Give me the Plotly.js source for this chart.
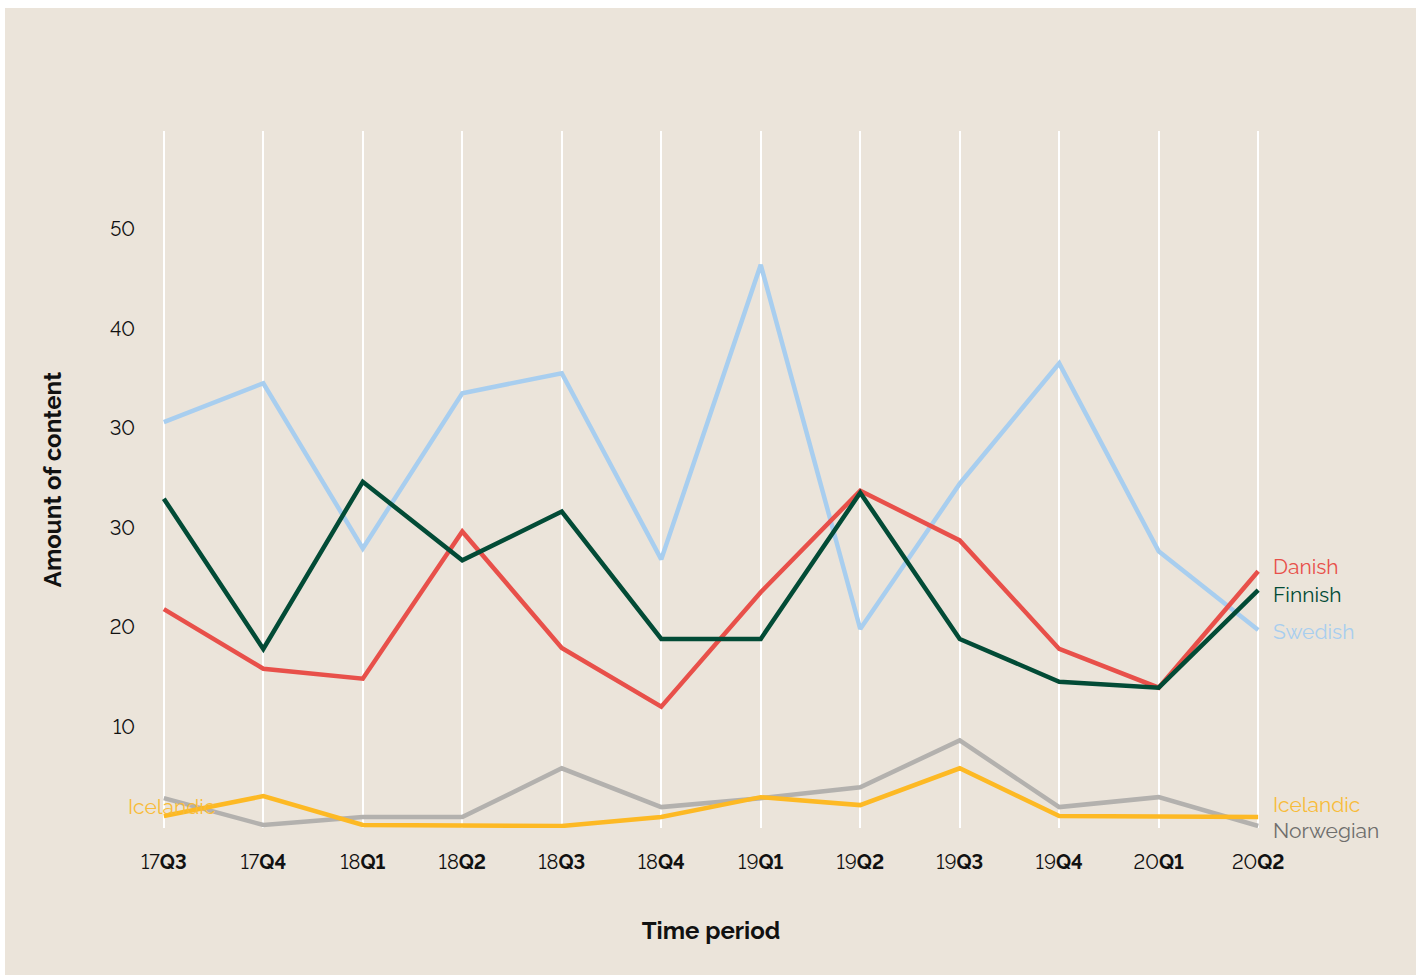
<!DOCTYPE html>
<html>
<head>
<meta charset="utf-8">
<script src="https://cdn.plot.ly/plotly-3.0.1.min.js"></script>
<style>
html,body{margin:0;padding:0;background:#ffffff;width:1416px;height:975px;overflow:hidden;}
#chart{position:absolute;left:5px;top:8px;width:1411px;height:967px;}
#chart text{font-variant-numeric:lining-nums;font-feature-settings:"lnum" 1;}
</style>
</head>
<body>
<div id="chart"></div>
<script>
const periods = ["17Q3","17Q4","18Q1","18Q2","18Q3","18Q4","19Q1","19Q2","19Q3","19Q4","20Q1","20Q2"];
const periodLabels = ["17<b>Q3</b>","17<b>Q4</b>","18<b>Q1</b>","18<b>Q2</b>","18<b>Q3</b>","18<b>Q4</b>","19<b>Q1</b>","19<b>Q2</b>","19<b>Q3</b>","19<b>Q4</b>","20<b>Q1</b>","20<b>Q2</b>"];
const yTickVals = [10,20,30,40,50,60];
const yTickText = ["10","20","30","30","40","50"];

const swedish   = [40.6,44.5,27.9,43.5,45.5,26.8,56.4,19.8,34.4,46.5,27.6,19.7];
const finnish   = [32.9,17.8,34.6,26.7,31.6,18.8,18.8,33.5,18.8,14.5,13.9,23.7];
const danish    = [21.8,15.8,14.8,29.6,17.9,12.0,23.5,33.7,28.7,17.8,13.9,25.6];
const norwegian = [2.8,0.1,0.9,0.9,5.8,1.9,2.8,3.9,8.6,1.9,2.9,0.0];
const icelandic = [1.0,3.0,0.1,0.1,0.0,0.9,2.9,2.1,5.8,1.0,1.0,0.9];

const series = [
  {name:"Norwegian", y:norwegian, color:"#B3B1AE", text:"#6F6E6C", ay:830},
  {name:"Icelandic", y:icelandic, color:"#FDB924", text:"#F8BC3A", ay:804},
  {name:"Swedish",   y:swedish,   color:"#A8CEEF", text:"#A8CEEF", ay:631},
  {name:"Danish",    y:danish,    color:"#E8504A", text:"#E8504A", ay:566},
  {name:"Finnish",   y:finnish,   color:"#024B36", text:"#024B36", ay:594}
];

const xIdx = periods.map((p,i)=>i);
const traces = series.map(s => ({
  type:"scatter", mode:"lines", x:xIdx, y:s.y, name:s.name,
  line:{color:s.color, width:4.5}, hoverinfo:"x+y+name"
}));

const fontFam = "Raleway, Lato, 'Open Sans', sans-serif";
const plotTopPage = 131, plotBotPage = 828;
const yr = [-0.2, 69.85];
function pageYtoData(py){ return yr[1] - (py - plotTopPage) / (plotBotPage - plotTopPage) * (yr[1]-yr[0]); }
const anchorPage = 800;

const annotations = series.map(s => ({
  x: 11, xref:"x", y: pageYtoData(anchorPage), yref:"y",
  text: s.name, showarrow:false, xanchor:"left", yanchor:"middle", xshift:13, yshift: anchorPage - s.ay,
  font:{family:fontFam, size:21, color:s.text}
}));
annotations.push({
  x: 0, xref:"x", y: pageYtoData(806), yref:"y", text:"Icelandic", showarrow:false,
  xanchor:"right", yanchor:"middle", xshift:53,
  font:{family:fontFam, size:21, color:"#F8BC3A"}
});

const layout = {
  width:1411, height:967,
  paper_bgcolor:"#EBE4DA", plot_bgcolor:"#EBE4DA",
  margin:{l:124, r:123, t:123, b:147},
  showlegend:false,
  font:{family:fontFam, size:20, color:"#111111"},
  xaxis:{
    range:[-0.35, 11.35], tickvals:xIdx, ticktext:periodLabels,
    showgrid:true, gridcolor:"#FFFFFF", gridwidth:2, zeroline:false, showline:false,
    ticks:"outside", ticklen:16, tickcolor:"rgba(0,0,0,0)",
    tickfont:{family:fontFam, size:20, color:"#111111"},
    title:{text:"<b>Time period</b>", standoff:49, font:{family:fontFam, size:24, color:"#111111"}}
  },
  yaxis:{
    range:yr, tickvals:yTickVals, ticktext:yTickText,
    showgrid:false, zeroline:false, showline:false,
    ticks:"", ticklabelstandoff:-7, tickfont:{family:fontFam, size:20, color:"#111111"},
    title:{text:"<b>Amount of content</b>", standoff:43, font:{family:fontFam, size:24, color:"#111111"}}
  },
  annotations: annotations
};

Plotly.newPlot("chart", traces, layout, {displayModeBar:false, responsive:false});
</script>
</body>
</html>
